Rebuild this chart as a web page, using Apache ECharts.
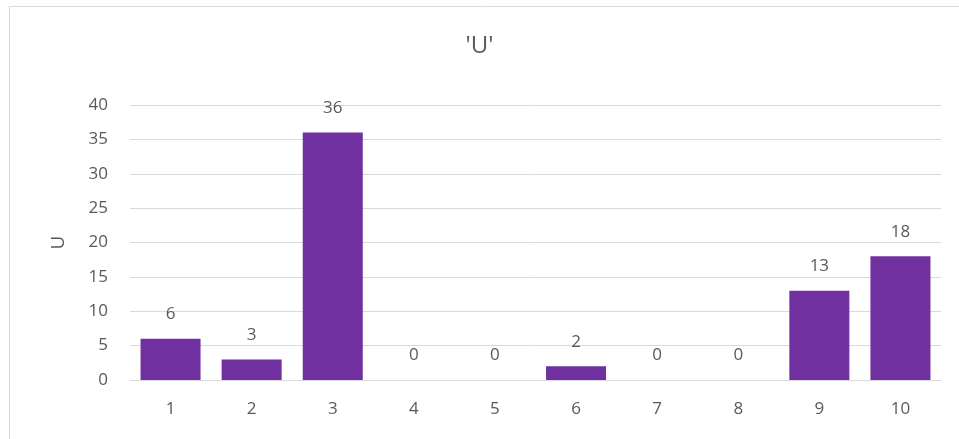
<!DOCTYPE html>
<html>
<head>
<meta charset="utf-8">
<script src="https://cdn.jsdelivr.net/npm/echarts@6/dist/echarts.min.js"></script>
<style>
  html, body { margin: 0; padding: 0; background: #fff; }
  #chart { width: 959px; height: 439px; }
</style>
</head>
<body>
<div id="chart"></div>
<script>
// Category labels and counts for series 'U'
const categories = ['1', '2', '3', '4', '5', '6', '7', '8', '9', '10'];
const values = [6, 3, 36, 0, 0, 2, 0, 0, 13, 18];
const chartTitle = "'U'";
const axisName = 'U';

const textColor = '#595959';
const fontFamily = '"Open Sans", "Liberation Sans", sans-serif';

const chart = echarts.init(document.getElementById('chart'), null, { renderer: 'canvas' });
chart.setOption({
  animation: false,
  backgroundColor: '#ffffff',
  graphic: [{
    type: 'rect',
    shape: { x: 9.5, y: 6.5, width: 980, height: 460 },
    style: { fill: 'none', stroke: '#d9d9d9', lineWidth: 1 },
    silent: true
  }],
  title: {
    text: chartTitle,
    left: 'center',
    top: 29,
    textStyle: { color: textColor, fontSize: 24, fontWeight: 'normal', fontFamily }
  },
  grid: { left: 130, right: 18, top: 105, bottom: 59 },
  xAxis: {
    type: 'category',
    data: categories,
    axisLine: { show: true, lineStyle: { color: '#d9d9d9', width: 1 } },
    axisTick: { show: false },
    axisLabel: { color: textColor, fontSize: 17, margin: 21, fontFamily }
  },
  yAxis: {
    type: 'value',
    min: 0,
    max: 40,
    interval: 5,
    name: axisName,
    nameLocation: 'middle',
    nameGap: 62,
    nameTextStyle: { color: textColor, fontSize: 19, fontFamily },
    axisLine: { show: false },
    axisTick: { show: false },
    axisLabel: { color: textColor, fontSize: 17, margin: 22, fontFamily },
    splitLine: { lineStyle: { color: '#d9d9d9', width: 1 } }
  },
  series: [{
    type: 'bar',
    data: values,
    barCategoryGap: '26%',
    itemStyle: { color: '#7030A0' },
    label: {
      show: true,
      position: 'top',
      distance: 16,
      color: textColor,
      fontSize: 17,
      fontFamily
    }
  }]
});
</script>
</body>
</html>
